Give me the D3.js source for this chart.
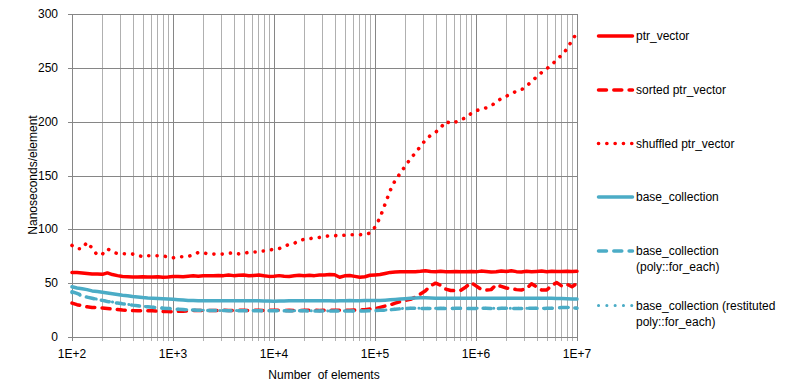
<!DOCTYPE html>
<html><head><meta charset="utf-8">
<script src="https://cdn.jsdelivr.net/npm/d3@7"></script>
<style>
html,body{margin:0;padding:0;background:#fff;}
text{font-family:"Liberation Sans",Arial,sans-serif;fill:#000;}
</style></head>
<body><svg id="c" width="795" height="390"></svg>
<script>
const elements = [100,112,126,141,158,178,200,224,251,282,316,355,398,447,501,562,631,708,794,891,
1000,1122,1259,1413,1585,1778,1995,2239,2512,2818,3162,3548,3981,4467,5012,5623,6310,7079,7943,8913,
10000,11220,12589,14125,15849,17783,19953,22387,25119,28184,31623,35481,39811,44668,50119,56234,63096,70795,79433,89125,
100000,112202,125893,141254,158489,177828,199526,223872,251189,281838,316228,354813,398107,446684,501187,562341,630957,707946,794328,891251,
1000000,1122018,1258925,1412538,1584893,1778279,1995262,2238721,2511886,2818383,3162278,3548134,3981072,4466836,5011872,5623413,6309573,7079458,7943282,8912509,
10000000];

const ptrVector = [60,59.8,59.5,59,58.5,58.5,58.2,59.5,58,57,
56.2,56,55.8,55.8,56,55.7,55.8,56,55.6,55.8,
56.2,56.3,56,56.5,56.8,56.5,56.8,57,56.8,57.2,
57,57.5,57,57.3,57.6,56.8,57.2,57.5,56.8,56.3,
56.5,57,56.5,56.2,56.8,57.3,57,57.3,57,57.5,
57.5,58,57.8,55.5,56.8,57.2,56.3,55.5,56,57.3,
57.6,58,59,60,60.3,60.5,60.5,60.5,60.7,61,
61.5,60.8,60.7,61,60.7,60.5,60.8,60.5,60.6,60.8,
60.5,61.2,60.8,60.4,60.7,61.3,60.8,61.5,60.7,60.4,
61,60.5,60.8,61.2,60.7,61,60.8,60.9,61,60.9,
61];

const sortedPtrVector = [31.5,30,29,28,27.5,27.3,27,26.5,26,25.5,
25,24.8,24.5,24.4,24.4,24.4,24.3,24,23.8,23.6,
23.5,23.8,24,24.3,24.5,24.5,24.5,24.6,24.6,24.7,
24.8,24.6,24.7,24.8,24.8,24.7,24.8,24.8,24.7,24.8,
24.8,24.8,24.7,24.8,24.7,24.6,24.8,24.9,24.8,24.7,
24.8,25,24.8,24.8,24.8,24.8,25,25.2,25.4,26,
26.3,27.5,28.8,29.8,31.5,33,34,35,37,40,
43,47.5,50,48,44.5,43.2,43,43.5,46.5,50.5,
47.5,44.3,43.6,44,48.5,47,45.5,45,44,43.6,
45,49.5,46.5,43.6,43.6,48,50.5,47.3,49,46.7,
49.8];

const shuffledPtrVector = [85,82,82,88,82.5,76,77,82,79,77.5,
77.4,77.3,77,76,74.5,75.5,75.5,75.4,75.2,74.5,
73.5,74.5,74.6,74.8,76.5,78.5,78.3,77,77,77,
77,77.8,78.2,77.2,77.8,78.6,78.9,79.3,80,80.7,
81.5,82,84,86,87,89.5,90.8,91.3,92,92.5,
93.4,94,94.3,93.8,94.6,95,95,95,95.3,96.5,
102,111,123.5,136,145.5,152,159,165.3,171,177,
183,187.3,190.2,194.2,200.3,198.2,199.8,202,203.6,207.5,
210,211.8,212.8,214.8,218.2,221.5,223.6,226.2,228.2,229.7,
233,237.4,241.6,245.7,249.3,252.7,257.8,262,267.5,275.5,
282.5];

const baseCollection = [46.7,45.5,44.8,44,42.8,42.2,41.5,40.8,40.2,39.5,
38.8,38.3,37.6,37.2,36.6,36.2,36,35.8,35.5,35.2,
35,34.7,34.3,34,33.8,33.7,33.7,33.7,33.6,33.7,
33.7,33.7,33.7,33.6,33.6,33.6,33.6,33.6,33.5,33.4,
33.3,33.4,33.5,33.6,33.6,33.7,33.7,33.7,33.6,33.7,
33.7,33.6,33.5,33.6,33.7,33.8,33.7,33.7,33.8,33.8,
33.9,34,34.2,34.5,34.8,35.2,35.6,36,36.3,36.4,
36.4,36.2,36,35.9,36,36,36.1,36,35.9,36,
36.1,36,36,36.1,36,36,36.1,36,36,36.1,
36,36,36.1,36,36,35.9,35.8,35.7,35.6,35.4,
35.2];

const baseCollectionPoly = [42,40.5,38.5,37,36,35,34,33,32.2,31.5,
30.8,30.3,29.6,29,28.5,28,27.6,27.2,26.8,26.5,
26.2,25.8,25.5,25.2,25,24.9,24.8,24.7,24.6,24.5,
24.5,24.4,24.4,24.4,24.4,24.4,24.4,24.3,24.3,24.4,
24.4,24.3,24.3,24.2,24.2,24.3,24.3,24.2,24.2,24.2,
24.2,24.1,24.2,24.2,24.1,24.1,24.2,24.2,24.2,24.3,
24.5,24.8,25,25.3,25.8,26.2,26.5,26.6,26.6,26.5,
26.5,26.5,26.5,26.6,26.5,26.5,26.6,26.6,26.5,26.5,
26.5,26.6,26.6,26.5,26.5,26.6,26.6,26.6,26.5,26.5,
26.6,26.6,26.6,26.5,26.6,26.7,27,27.3,27.5,27.2,
26.8];

const baseCollectionRestituted = [41,39.5,38.2,37,36,35,34.2,33.4,32.6,31.8,
31,30.4,29.8,29.2,28.6,28.1,27.6,27.2,26.8,26.4,
26,25.7,25.4,25.2,25,24.9,24.8,24.7,24.6,24.6,
24.6,24.5,24.5,24.5,24.5,24.5,24.5,24.4,24.4,24.5,
24.5,24.4,24.4,24.3,24.3,24.4,24.4,24.3,24.3,24.3,
24.3,24.2,24.3,24.3,24.2,24.2,24.3,24.3,24.3,24.4,
24.6,24.9,25.1,25.4,25.9,26.3,26.6,26.7,26.7,26.6,
26.6,26.6,26.6,26.7,26.6,26.6,26.7,26.7,26.6,26.6,
26.6,26.7,26.7,26.6,26.6,26.7,26.7,26.7,26.6,26.6,
26.7,26.7,26.7,26.6,26.7,26.8,27.1,27.4,27.6,27.3,
26.9];

const seriesNames = ["ptr_vector","sorted ptr_vector","shuffled ptr_vector","base_collection","base_collection\n(poly::for_each)","base_collection (restituted\npoly::for_each)"];
const yTicks = [0,50,100,150,200,250,300];
const xTicks = [1e2,1e3,1e4,1e5,1e6,1e7];
const xTickLabels = ["1E+2","1E+3","1E+4","1E+5","1E+6","1E+7"];

const series = [
  {name:seriesNames[0], values:ptrVector, color:"#FF0000", dash:null, w:3.5},
  {name:seriesNames[1], values:sortedPtrVector, color:"#FF0000", dash:"8,7.3", w:3.5},
  {name:seriesNames[2], values:shuffledPtrVector, color:"#FF0000", dash:"0.1,8.2", w:3.6},
  {name:seriesNames[3], values:baseCollection, color:"#4BACC6", dash:null, w:3.5},
  {name:seriesNames[4], values:baseCollectionPoly, color:"#4BACC6", dash:"8,7.3", w:3.5},
  {name:seriesNames[5], values:baseCollectionRestituted, color:"#4BACC6", dash:"0.1,8.2", w:3},
];

const svg = d3.select("#c");
const L=72, R=577, T=14, B=337;
const x = d3.scaleLog().domain([1e2,1e7]).range([L,R]);
const y = d3.scaleLinear().domain([0,300]).range([B,T]);

// minor vertical gridlines
const minor = [];
for (const d of xTicks.slice(0,-1)) for (let k=2;k<10;k++) minor.push(d*k);
const g = svg.append("g");
g.selectAll(".mn").data(minor).enter().append("line")
  .attr("x1",d=>Math.round(x(d))+0.5).attr("x2",d=>Math.round(x(d))+0.5)
  .attr("y1",T).attr("y2",B+4).attr("stroke","#B0B0B0").attr("stroke-width",1);
g.selectAll(".mj").data(xTicks).enter().append("line")
  .attr("x1",d=>Math.round(x(d))+0.5).attr("x2",d=>Math.round(x(d))+0.5)
  .attr("y1",T).attr("y2",B+4).attr("stroke","#868686").attr("stroke-width",1);
g.selectAll(".hz").data(yTicks).enter().append("line")
  .attr("x1",L-4).attr("x2",R+0.5)
  .attr("y1",d=>Math.round(y(d))+0.5).attr("y2",d=>Math.round(y(d))+0.5)
  .attr("stroke","#868686").attr("stroke-width",1);

// y tick labels
svg.selectAll(".yl").data(yTicks).enter().append("text")
  .attr("x",58).attr("y",d=>y(d)+4).attr("text-anchor","end")
  .style("font-size","12px").text(d=>d);
// x tick labels
svg.selectAll(".xl").data(xTicks).enter().append("text")
  .attr("x",d=>x(d)).attr("y",358).attr("text-anchor","middle")
  .style("font-size","12px").text((d,i)=>xTickLabels[i]);

svg.append("text").attr("x",324).attr("y",379).attr("text-anchor","middle")
  .style("font-size","12px").style("white-space","pre").text("Number  of elements");
svg.append("text").attr("transform","translate(37,175) rotate(-90)").attr("text-anchor","middle")
  .style("font-size","12px").text("Nanoseconds/element");

const line = d3.line().x((d,i)=>x(elements[i])).y(d=>y(d));
const lg = svg.append("g");
series.forEach(s=>{
  lg.append("path").datum(s.values).attr("d",line)
    .attr("fill","none").attr("stroke",s.color).attr("stroke-width",s.w)
    .attr("stroke-linecap","round").attr("stroke-linejoin","round")
    .attr("stroke-dasharray",s.dash);
});

// legend
const legY = [36,90,143.5,197,251,305.5];
series.forEach((s,i)=>{
  const gy = legY[i];
  svg.append("line").attr("x1",598.5).attr("x2",632.5).attr("y1",gy).attr("y2",gy)
    .attr("stroke",s.color).attr("stroke-width",s.w)
    .attr("stroke-linecap","round").attr("stroke-dasharray",s.dash);
  const lines = s.name.split("\n");
  const t = svg.append("text").attr("x",636).attr("y",gy+4).style("font-size","12px");
  lines.forEach((ln,j)=>t.append("tspan").attr("x",636).attr("dy",j===0?0:16).text(ln));
});
</script></body></html>
